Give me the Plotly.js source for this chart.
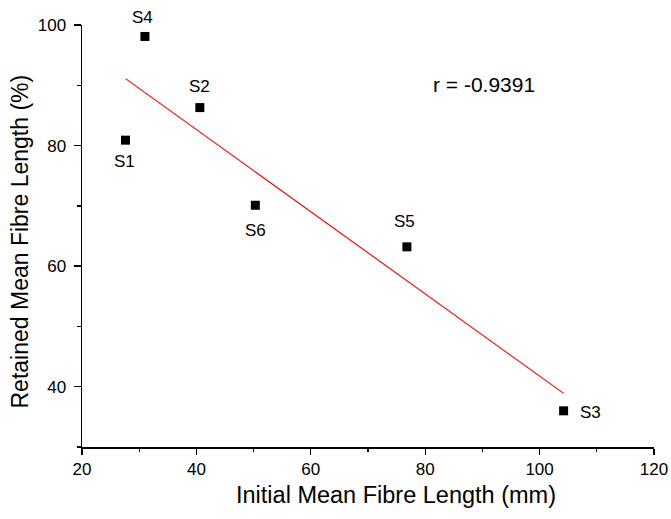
<!DOCTYPE html>
<html>
<head>
<meta charset="utf-8">
<script src="https://cdn.plot.ly/plotly-3.0.1.min.js"></script>
<style>html,body{margin:0;padding:0;background:#fff;}#chart{width:671px;height:519px;}</style>
</head>
<body>
<div id="chart"></div>
<script>
const sampleNames = ["S1", "S2", "S3", "S4", "S5", "S6"];
const initialLength = [27.6, 40.6, 104.2, 31.0, 76.8, 50.3];
const retainedLength = [80.9, 86.3, 36.0, 98.1, 63.2, 70.1];
const fitX = [27.6, 104.2];
const fitY = [91.1, 38.9];
const rText = "r = -0.9391";
const xTitle = "Initial Mean Fibre Length (mm)";
const yTitle = "Retained Mean Fibre Length (%)";
const xTickVals = [20, 40, 60, 80, 100, 120];
const yTickVals = [40, 60, 80, 100];

// label offsets (px) per sample
const labelShift = {
  S1: [-1, -21], S2: [0, 21], S3: [27, -2], S4: [-2, 19], S5: [-2, 25], S6: [0, -25]
};

const font = "Liberation Sans, Arial, sans-serif";

const traces = [
  {
    x: fitX, y: fitY, type: "scatter", mode: "lines",
    line: {color: "rgb(255,0,0)", width: 1.1},
    hoverinfo: "skip", showlegend: false
  },
  {
    x: initialLength, y: retainedLength, type: "scatter", mode: "markers",
    marker: {symbol: "square", size: 9, color: "#000"},
    showlegend: false
  }
];

const annotations = sampleNames.map((n, i) => ({
  x: initialLength[i], y: retainedLength[i], text: n, showarrow: false,
  xshift: labelShift[n][0], yshift: labelShift[n][1],
  font: {family: font, size: 17, color: "#000"}
}));
annotations.push({
  xref: "paper", yref: "paper", x: 0.703, y: 0.86, text: rText, showarrow: false,
  xanchor: "center", yanchor: "middle",
  font: {family: font, size: 21, color: "#000"}
});
annotations.push({
  xref: "paper", yref: "paper", x: 0.549, y: 0, yshift: -48, text: xTitle, showarrow: false,
  xanchor: "center", yanchor: "middle",
  font: {family: font, size: 23.5, color: "#000"}
});
annotations.push({
  xref: "paper", yref: "paper", x: 0, xshift: -62, y: 0.487, text: yTitle, showarrow: false,
  xanchor: "center", yanchor: "middle", textangle: -90,
  font: {family: font, size: 23, color: "#000"}
});

const layout = {
  width: 671, height: 519,
  margin: {l: 82, r: 17, t: 25, b: 72},
  paper_bgcolor: "#fff", plot_bgcolor: "#fff",
  font: {family: font, color: "#000"},
  xaxis: {
    range: [20, 120], tickvals: xTickVals, ticks: "outside", ticklen: 6, tickwidth: 1.3,
    tickcolor: "#000", showline: true, linecolor: "#000", linewidth: 1.5,
    showgrid: false, zeroline: false, tickfont: {size: 17, family: font, color: "#000"},
    minor: {dtick: 10, tick0: 20, ticks: "outside", ticklen: 3.5, tickwidth: 1.3, tickcolor: "#000", showgrid: false}
  },
  yaxis: {
    range: [30, 100], tickvals: yTickVals, ticks: "outside", ticklen: 7, tickwidth: 1.3,
    tickcolor: "#000", showline: true, linecolor: "#000", linewidth: 1.5,
    showgrid: false, zeroline: false, tickfont: {size: 17, family: font, color: "#000"},
    ticklabelstandoff: 4,
    minor: {dtick: 10, tick0: 30, ticks: "outside", ticklen: 4, tickwidth: 1.3, tickcolor: "#000", showgrid: false}
  },
  annotations: annotations
};

Plotly.newPlot("chart", traces, layout, {displayModeBar: false, staticPlot: true});
</script>
</body>
</html>
